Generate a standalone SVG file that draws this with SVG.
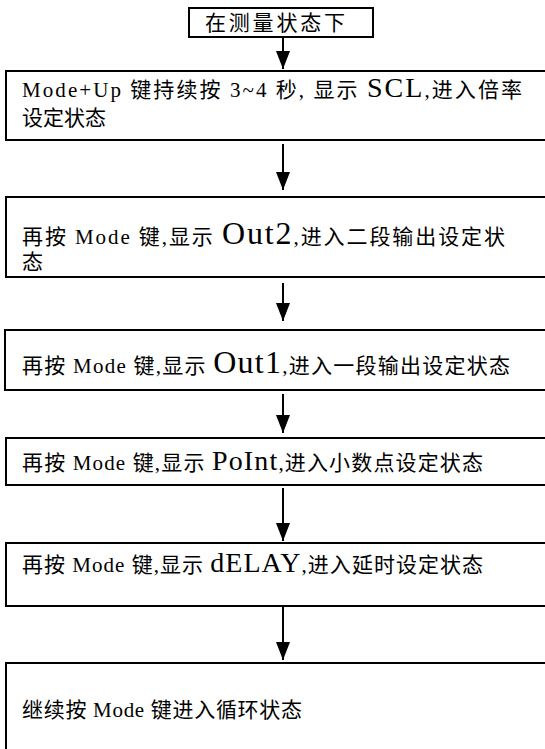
<svg xmlns="http://www.w3.org/2000/svg" width="545" height="749" viewBox="0 0 545 749">
<defs>
<style>
.box{fill:#fff;stroke:#000;stroke-width:2}
.t{font-family:"Liberation Serif","Noto Sans CJK SC",serif;font-size:21px;fill:#000}
.big{font-size:28px}
.big2{font-size:32px}
.conn{stroke:#000;stroke-width:2;fill:none}
</style>
<marker id="a2" markerWidth="18" markerHeight="14" refX="18" refY="7" orient="auto" markerUnits="userSpaceOnUse" viewBox="0 0 18 14">
<path d="M0,0 L18,7 L0,14 Z" fill="#000"/>
</marker>
</defs>
<g id="connectors">
<line class="conn" x1="283" y1="37" x2="283" y2="69" marker-end="url(#a2)"/>
<line class="conn" x1="283" y1="144" x2="283" y2="190" marker-end="url(#a2)"/>
<line class="conn" x1="283" y1="283" x2="283" y2="321" marker-end="url(#a2)"/>
<line class="conn" x1="283" y1="394" x2="283" y2="433" marker-end="url(#a2)"/>
<line class="conn" x1="283" y1="488" x2="283" y2="541" marker-end="url(#a2)"/>
<line class="conn" x1="283" y1="607" x2="283" y2="660" marker-end="url(#a2)"/>
</g>
<g id="n0">
<rect class="box" x="189" y="8" width="184" height="29"/>
<text class="t" x="205" y="30" textLength="140" lengthAdjust="spacing">在测量状态下</text>
</g>
<g id="n1">
<rect class="box" x="6" y="71" width="545" height="69"/>
<text class="t" x="22" y="97" textLength="500" lengthAdjust="spacing">Mode+Up 键持续按 3~4 秒, 显示 <tspan class="big">SCL</tspan>,进入倍率</text>
<text class="t" x="22" y="125">设定状态</text>
</g>
<g id="n2">
<rect class="box" x="6" y="197" width="545" height="80"/>
<text class="t" x="22" y="244" textLength="483" lengthAdjust="spacing">再按 Mode 键,显示 <tspan class="big2">Out2</tspan>,进入二段输出设定状</text>
<text class="t" x="22" y="269">态</text>
</g>
<g id="n3">
<rect class="box" x="5" y="330" width="545" height="60"/>
<text class="t" x="22" y="373" textLength="488" lengthAdjust="spacing">再按 Mode 键,显示 <tspan class="big2">Out1</tspan>,进入一段输出设定状态</text>
</g>
<g id="n4">
<rect class="box" x="6" y="438" width="545" height="47"/>
<text class="t" x="22" y="470" textLength="461" lengthAdjust="spacing">再按 Mode 键,显示 <tspan class="big">PoInt</tspan>,进入小数点设定状态</text>
</g>
<g id="n5">
<rect class="box" x="6" y="543" width="545" height="63"/>
<text class="t" x="22" y="572" textLength="461" lengthAdjust="spacing">再按 Mode 键,显示 <tspan class="big">dELAY</tspan>,进入延时设定状态</text>
</g>
<g id="n6">
<rect class="box" x="6" y="663" width="545" height="100"/>
<text class="t" x="22" y="717" textLength="280" lengthAdjust="spacing">继续按 Mode 键进入循环状态</text>
</g>
</svg>
